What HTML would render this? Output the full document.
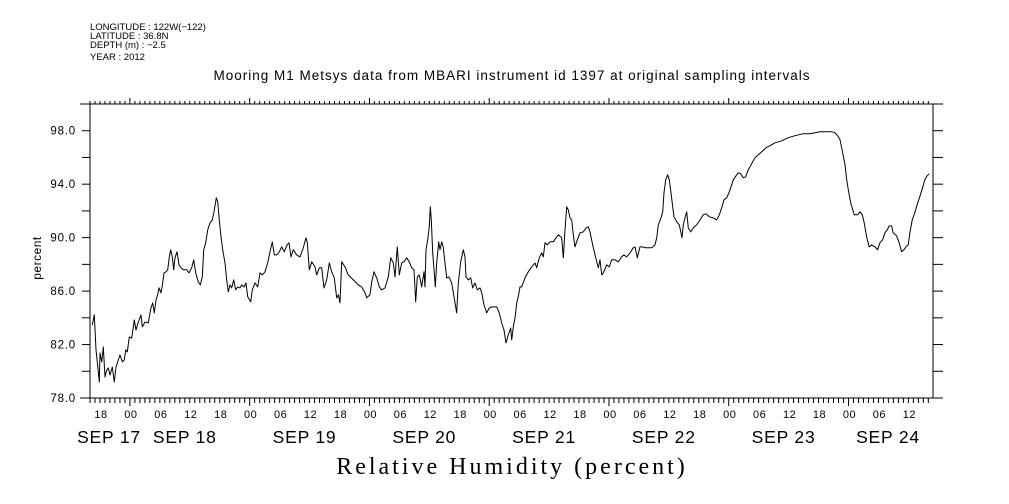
<!DOCTYPE html>
<html><head><meta charset="utf-8"><style>
html,body{margin:0;padding:0;background:#fff;}
svg{display:block;font-family:"Liberation Sans",sans-serif;}
</style></head><body>
<svg id="chart" width="1009" height="504" viewBox="0 0 1009 504" xmlns="http://www.w3.org/2000/svg">
<g font-size="9.5" fill="#000">
<text x="90" y="30">LONGITUDE : 122W(−122)</text>
<text x="90" y="39">LATITUDE : 36.8N</text>
<text x="90" y="48">DEPTH (m) : −2.5</text>
<text x="90" y="60">YEAR : 2012</text>
</g>
<text x="512" y="80" text-anchor="middle" font-size="13.5" letter-spacing="1">Mooring M1 Metsys data from MBARI instrument id 1397 at original sampling intervals</text>
<text x="512" y="474" text-anchor="middle" font-size="24" letter-spacing="3" font-family="Liberation Serif, serif">Relative Humidity (percent)</text>
<text x="0" y="0" transform="translate(41,258) rotate(-90)" text-anchor="middle" font-size="12" letter-spacing="0.5">percent</text>
<g id="axes" stroke="#000" stroke-width="1" fill="none"></g>
<g id="labels" fill="#000"></g>
<path id="series" fill="none" stroke="#000" stroke-width="1" stroke-linejoin="round"></path>
</svg>
<script>
// hours since 2012-09-17 00:00
const hours=[16.46,16.86,17.20,17.46,17.86,18.00,18.34,18.67,19.01,19.35,19.67,20.01,20.47,20.87,21.21,21.55,22.01,22.47,22.87,23.15,23.47,23.88,24.36,24.88,25.22,25.68,26.22,26.48,27.02,27.68,28.02,28.22,28.57,28.89,29.23,29.57,29.83,30.23,30.57,30.83,31.23,31.57,31.89,32.17,32.49,32.77,33.03,33.43,33.84,34.24,34.70,35.38,35.84,36.38,36.78,37.18,37.70,38.10,38.50,38.79,39.19,39.59,40.05,40.51,40.85,41.31,41.59,41.85,42.25,42.59,43.05,43.39,43.71,44.06,44.40,44.80,45.20,45.60,46.06,46.40,46.86,47.26,47.60,48.20,48.52,49.07,49.61,50.07,50.53,51.07,51.61,52.07,52.53,52.93,53.41,53.94,54.42,54.94,55.48,55.88,56.28,56.74,57.42,58.08,58.75,59.29,59.55,59.95,60.43,61.09,61.43,61.95,62.43,62.89,63.43,63.96,64.44,64.96,65.44,65.76,66.10,66.44,67.10,67.76,68.77,69.77,70.45,71.11,71.45,72.11,72.45,72.91,73.45,73.98,74.46,75.12,75.78,76.26,76.78,77.12,77.58,77.98,78.46,78.92,79.47,79.99,80.47,80.93,81.27,81.59,81.99,82.47,82.93,83.13,83.33,83.68,84.00,84.20,84.40,84.68,85.00,85.20,85.48,85.88,86.14,86.48,86.80,87.14,87.48,87.94,88.48,88.95,89.29,89.49,89.81,90.29,90.81,91.15,91.35,91.81,92.29,92.69,93.15,93.62,94.16,94.50,94.96,95.50,96.02,96.70,97.50,98.02,98.51,98.97,99.37,99.83,100.31,100.51,100.83,101.17,101.51,101.83,102.17,102.51,103.17,103.83,104.51,105.18,105.52,106.04,106.52,106.84,107.18,107.64,108.18,108.84,109.38,109.84,110.53,110.85,111.19,111.53,111.85,112.19,112.53,112.85,113.19,113.66,114.20,114.86,115.40,115.86,116.20,116.74,117.20,117.54,117.86,118.20,118.54,118.86,119.54,120.06,120.53,121.20,121.86,122.54,123.00,123.54,124.21,124.87,125.21,125.68,126.22,126.76,127.22,127.88,128.56,129.22,129.56,129.89,130.43,130.77,131.03,131.37,131.77,132.09,132.43,132.77,133.03,133.57,134.09,134.64,134.90,135.30,135.58,135.90,136.38,136.90,137.58,138.24,138.91,139.45,140.11,140.91,141.59,142.11,142.59,143.05,143.59,144.11,144.59,144.91,145.45,145.91,146.40,146.92,147.40,147.92,148.26,148.80,149.26,149.93,150.61,151.47,152.27,153.27,154.62,155.94,157.28,158.95,160.29,161.29,162.29,163.64,164.64,165.30,165.96,166.30,166.84,167.30,167.64,167.96,168.44,168.84,169.16,169.76,170.30,170.76,171.16,171.64,172.16,172.64,173.30,173.84,174.30,174.84,175.30,175.76,176.16,176.64,176.96,177.64,178.16,178.64,179.10,179.50,179.96,180.30,180.76,181.30,181.76,182.30,182.84,183.30,183.76,184.16];
const rh=[83.47,84.22,81.60,80.70,79.20,81.37,80.70,81.82,79.57,80.10,80.25,79.72,80.32,79.20,80.32,80.70,81.22,80.70,80.85,81.60,81.45,82.57,82.49,83.84,83.09,83.69,84.22,83.32,83.69,83.62,84.37,84.74,85.12,84.37,85.34,85.72,86.24,85.87,86.61,87.36,87.44,87.59,88.56,89.09,88.56,87.59,88.49,88.94,87.96,87.74,87.59,87.59,87.36,87.74,88.34,87.36,86.69,86.46,87.06,89.09,89.61,90.58,91.11,91.33,91.93,92.98,92.68,91.56,90.06,89.09,88.11,86.84,85.94,86.46,86.24,86.84,86.09,86.31,86.24,86.46,86.31,86.61,85.57,85.19,86.09,86.61,86.31,87.36,87.21,87.44,88.11,88.94,89.69,88.71,88.71,88.94,89.31,88.94,89.46,89.61,88.56,89.09,88.71,88.56,89.24,89.99,89.61,87.59,88.19,87.81,87.21,87.74,87.74,86.24,86.84,88.11,87.44,86.99,85.49,85.72,85.12,88.19,87.81,87.21,86.84,86.46,86.31,85.87,85.49,85.72,86.69,87.44,86.99,86.31,86.09,86.24,87.06,88.49,88.11,87.06,89.31,87.21,88.11,88.19,88.49,88.19,87.74,87.59,85.19,87.06,87.21,86.31,87.44,86.31,89.09,89.84,90.81,92.31,91.33,88.86,87.36,86.31,88.11,89.69,89.09,89.69,89.24,88.11,86.99,87.06,86.61,85.57,84.82,84.37,86.61,88.19,89.09,88.56,87.06,86.84,86.99,86.24,86.61,86.09,86.24,85.87,84.97,84.37,84.74,84.82,84.82,84.37,83.62,83.09,82.12,82.72,83.24,82.34,83.32,83.99,85.12,85.57,86.31,86.31,86.99,87.44,87.81,88.11,87.74,88.49,88.86,88.56,89.61,89.46,89.69,89.69,89.99,90.21,89.99,88.49,90.58,92.31,92.08,91.48,91.33,90.21,89.31,89.84,90.36,90.43,90.73,90.81,90.43,89.46,88.71,88.19,87.74,88.34,87.21,87.36,87.96,87.81,88.34,88.34,88.19,88.56,88.71,88.56,88.86,89.24,89.31,88.49,89.31,89.31,89.24,89.24,89.24,89.46,89.99,90.96,91.48,91.93,93.36,94.33,94.70,94.33,93.36,92.31,91.56,91.18,90.96,89.99,90.96,91.56,91.93,90.73,90.43,90.73,90.96,91.33,91.71,91.78,91.56,91.48,91.33,91.71,92.23,92.83,92.98,93.43,93.96,94.33,94.63,94.85,94.78,94.48,94.55,95.08,95.30,95.68,95.98,96.20,96.43,96.73,96.88,97.10,97.25,97.48,97.63,97.78,97.78,97.85,97.93,97.93,97.93,97.85,97.55,97.33,96.35,95.45,94.33,93.58,92.61,92.08,91.71,91.71,91.93,91.71,91.11,90.06,89.31,89.46,89.31,89.09,89.61,89.84,90.36,90.58,90.88,90.88,90.36,90.14,89.61,88.94,89.09,89.31,89.46,90.36,91.33,91.86,92.46,93.06,93.73,94.33,94.63,94.78];
const yTickLabels=["78.0","82.0","86.0","90.0","94.0","98.0"];
const hourLabels=["00","06","12","18"];
const dateLabels=["SEP 17","SEP 18","SEP 19","SEP 20","SEP 21","SEP 22","SEP 23","SEP 24"];

const L=90,R=933,T=104,B=398;
const T0=16, PXH=4.99, T1=T0+(R-L)/PXH;
const V0=78, V1=100;
function xs(h){return L+(h-T0)*PXH;}
function ys(v){return B-(v-V0)*(B-T)/(V1-V0);}
const NS="http://www.w3.org/2000/svg";
const axes=document.getElementById('axes');
const labels=document.getElementById('labels');
function line(x1,y1,x2,y2,name){const l=document.createElementNS(NS,'line');
l.setAttribute('x1',x1);l.setAttribute('y1',y1);l.setAttribute('x2',x2);l.setAttribute('y2',y2);


axes.appendChild(l);}
function text(x,y,s,size,anchor,name,ls){const t=document.createElementNS(NS,'text');
t.setAttribute('x',x);t.setAttribute('y',y);t.setAttribute('font-size',size);t.setAttribute('text-anchor',anchor);
if(ls)t.setAttribute('letter-spacing',ls);
t.textContent=s;


labels.appendChild(t);}
line(80,T,943,T,'top-axis');
line(80,B,943,B,'bottom-axis');
line(L,T,L,B,'left-axis');
line(R,T,R,B,'right-axis');
for(let v=78;v<=100;v+=2){const y=ys(v);
 line(L-8,y,L,y,'y-tick-left');
 line(R,y,R+10,y,'y-tick-right');}
yTickLabels.forEach(s=>{const v=parseFloat(s);text(L-14,ys(v)+4,s,11.5,'end','y-tick-label',0.8);});
for(let h=Math.ceil(T0);h<=T1;h++){const x=xs(h);const major=(h%24===0);
 line(x,B,x,B+(major?8:5),'x-tick-bottom');
 line(x,T,x,T-(major?6:3),'x-tick-top');
 if(h%6===0 && x<=R-8){text(x+1,418,hourLabels[(h%24)/6],11,'middle','x-hour-label',0.5);}}
dateLabels.forEach((s,i)=>{let x=xs(i*24+12)-5;if(i===0)x=109;if(i===dateLabels.length-1)x=888;
 text(x,443,s,17.5,'middle','x-date-label',0.8);});
let d='';for(let i=0;i<hours.length;i++){d+=(i?'L':'M')+xs(hours[i]).toFixed(1)+','+ys(rh[i]).toFixed(1);}
document.getElementById('series').setAttribute('d',d);
</script>
</body></html>
